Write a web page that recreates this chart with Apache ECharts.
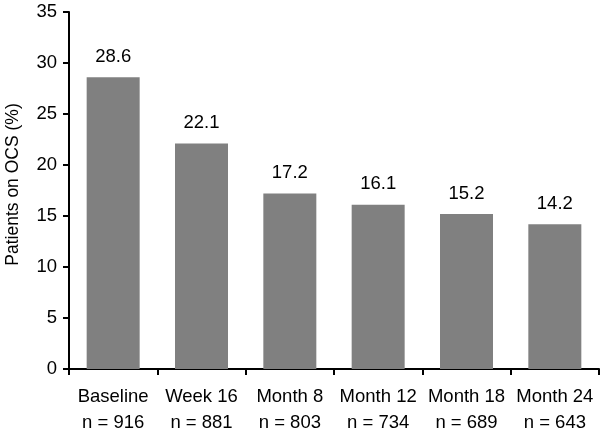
<!DOCTYPE html>
<html><head><meta charset="utf-8">
<script src="https://cdn.jsdelivr.net/npm/echarts@6/dist/echarts.min.js"></script>
<style>html,body{margin:0;padding:0;background:#fff}#c{width:600px;height:435px}</style>
</head><body><div id="c"></div>
<script>
const categories = ['Baseline', 'Week 16', 'Month 8', 'Month 12', 'Month 18', 'Month 24'];
const counts = ['n = 916', 'n = 881', 'n = 803', 'n = 734', 'n = 689', 'n = 643'];
const values = [28.6, 22.1, 17.2, 16.1, 15.2, 14.2];
const yTicks = [0, 5, 10, 15, 20, 25, 30, 35];

const font = 'Liberation Sans, Arial, sans-serif';
const chart = echarts.init(document.getElementById('c'));
chart.setOption({
  animation: false,
  grid: { left: 69, right: 1, top: 12, bottom: 66, containLabel: false, outerBoundsMode: 'none' },
  xAxis: {
    type: 'category',
    data: categories.map((c, i) => c + '\n' + counts[i]),
    axisLine: { lineStyle: { color: '#000', width: 2 } },
    axisTick: { show: true, length: 6, lineStyle: { color: '#000', width: 2 } },
    axisLabel: { color: '#000', fontSize: 18.5, fontFamily: font, lineHeight: 26, margin: 15, interval: 0 }
  },
  yAxis: {
    type: 'value',
    min: yTicks[0], max: yTicks[yTicks.length - 1], interval: 5,
    name: 'Patients on OCS (%)',
    nameLocation: 'middle',
    nameGap: 47,
    nameTextStyle: { color: '#000', fontSize: 17.5, fontFamily: font, padding: [0, 0, 0, 12] },
    axisLine: { show: true, lineStyle: { color: '#000', width: 2 } },
    axisTick: { show: true, length: 6, lineStyle: { color: '#000', width: 2 } },
    axisLabel: { color: '#000', fontSize: 18.5, fontFamily: font, margin: 12 },
    splitLine: { show: false }
  },
  series: [{
    type: 'bar',
    data: values,
    barCategoryGap: '40%',
    itemStyle: { color: '#808080' },
    label: {
      show: true, position: 'top', distance: 11,
      color: '#000', fontSize: 18.5, fontFamily: font,
      formatter: p => p.value.toFixed(1)
    }
  }]
});
</script></body></html>
